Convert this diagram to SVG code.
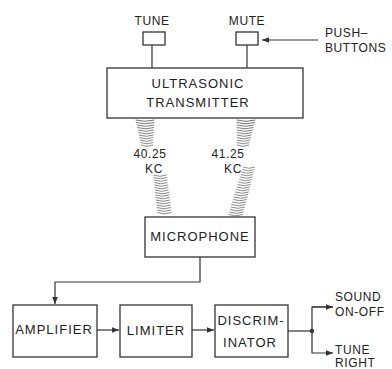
<svg xmlns="http://www.w3.org/2000/svg" xmlns:xlink="http://www.w3.org/1999/xlink" width="392" height="369" viewBox="0 0 392 369">
<style>
.box{fill:#fff;stroke:#333;stroke-width:1.3}
.ln{fill:none;stroke:#333;stroke-width:1.2}
.t{font-family:"Liberation Sans",Arial,sans-serif;fill:#222;text-anchor:middle;font-size:13px;letter-spacing:1px}
.s{font-size:12px;letter-spacing:0.6px}
.l{text-anchor:start}
.w{fill:none;stroke:#555;stroke-width:0.7}
</style>
<defs>
<marker id="ah" viewBox="0 0 10 10" refX="10" refY="5" markerWidth="7" markerHeight="7" orient="auto" markerUnits="userSpaceOnUse">
<path d="M0,1 L10,5 L0,9 Z" fill="#333"/>
</marker>
<path id="arc" d="M-7,0 Q0,2.6 7,0"/>
</defs>
<rect width="392" height="369" fill="#fff"/>

<g id="connectors">
<line class="ln" x1="152" y1="45" x2="152" y2="68"/>
<line class="ln" x1="247" y1="45" x2="247" y2="68"/>
<line class="ln" x1="318" y1="40" x2="262" y2="40" marker-end="url(#ah)"/>
<polyline class="ln" points="200,257 200,282 55,282 55,304" marker-end="url(#ah)"/>
<line class="ln" x1="97" y1="330" x2="119" y2="330" marker-end="url(#ah)"/>
<line class="ln" x1="192" y1="330" x2="214" y2="330" marker-end="url(#ah)"/>
<line class="ln" x1="288" y1="331" x2="312" y2="331"/>
<polyline class="ln" points="333,307 312,307 312,353 333,353" marker-end="url(#ah)"/>
<line class="ln" x1="312" y1="307" x2="333" y2="307" marker-end="url(#ah)"/>
<circle cx="312" cy="331" r="2.2" fill="#333"/>
</g>

<g id="waves" class="w">
<use xlink:href="#arc" transform="translate(145,120) scale(1.35,1)"/>
<use xlink:href="#arc" transform="translate(145.2,122.5) scale(1.3,1)"/>
<use xlink:href="#arc" transform="translate(145.4,125) scale(1.25,1)"/>
<use xlink:href="#arc" transform="translate(145.6,127.5) scale(1.2,1)"/>
<use xlink:href="#arc" transform="translate(145.8,130) scale(1.15,1)"/>
<use xlink:href="#arc" transform="translate(146,132.5) scale(1.1,1)"/>
<use xlink:href="#arc" transform="translate(146.2,135) scale(1.05,1)"/>
<use xlink:href="#arc" transform="translate(146.4,137.5) scale(1,1)"/>
<use xlink:href="#arc" transform="translate(146.6,140) scale(0.95,1)"/>
<use xlink:href="#arc" transform="translate(146.8,142.5) scale(0.9,1)"/>
<use xlink:href="#arc" transform="translate(147,145) scale(0.9,1)"/>

<use xlink:href="#arc" transform="translate(160,175) scale(0.95,1)"/>
<use xlink:href="#arc" transform="translate(160.3,177.5) scale(0.95,1)"/>
<use xlink:href="#arc" transform="translate(160.6,180) scale(0.95,1)"/>
<use xlink:href="#arc" transform="translate(160.9,182.5) scale(0.95,1)"/>
<use xlink:href="#arc" transform="translate(161.2,185) scale(0.97,1)"/>
<use xlink:href="#arc" transform="translate(161.5,187.5) scale(0.97,1)"/>
<use xlink:href="#arc" transform="translate(161.8,190) scale(0.97,1)"/>
<use xlink:href="#arc" transform="translate(162.1,192.5) scale(1,1)"/>
<use xlink:href="#arc" transform="translate(162.4,195) scale(1,1)"/>
<use xlink:href="#arc" transform="translate(162.7,197.5) scale(1,1)"/>
<use xlink:href="#arc" transform="translate(163,200) scale(1,1)"/>
<use xlink:href="#arc" transform="translate(163.3,202.5) scale(1,1)"/>
<use xlink:href="#arc" transform="translate(163.6,205) scale(1,1)"/>
<use xlink:href="#arc" transform="translate(163.9,207.5) scale(1,1)"/>
<use xlink:href="#arc" transform="translate(164.2,210) scale(1,1)"/>
<use xlink:href="#arc" transform="translate(164.5,212.5) scale(1,1)"/>

<use xlink:href="#arc" transform="translate(246,120) scale(1.35,1)"/>
<use xlink:href="#arc" transform="translate(245.7,122.5) scale(1.3,1)"/>
<use xlink:href="#arc" transform="translate(245.4,125) scale(1.25,1)"/>
<use xlink:href="#arc" transform="translate(245.1,127.5) scale(1.2,1)"/>
<use xlink:href="#arc" transform="translate(244.8,130) scale(1.15,1)"/>
<use xlink:href="#arc" transform="translate(244.5,132.5) scale(1.1,1)"/>
<use xlink:href="#arc" transform="translate(244.2,135) scale(1.05,1)"/>
<use xlink:href="#arc" transform="translate(243.9,137.5) scale(1,1)"/>
<use xlink:href="#arc" transform="translate(243.6,140) scale(0.95,1)"/>
<use xlink:href="#arc" transform="translate(243.3,142.5) scale(0.9,1)"/>
<use xlink:href="#arc" transform="translate(243,145) scale(0.9,1)"/>

<use xlink:href="#arc" transform="translate(249,167) scale(0.85,1)"/>
<use xlink:href="#arc" transform="translate(248.3,169.5) scale(0.85,1)"/>
<use xlink:href="#arc" transform="translate(247.6,172) scale(0.87,1)"/>
<use xlink:href="#arc" transform="translate(246.9,174.5) scale(0.87,1)"/>
<use xlink:href="#arc" transform="translate(246.2,177) scale(0.9,1)"/>
<use xlink:href="#arc" transform="translate(245.5,179.5) scale(0.9,1)"/>
<use xlink:href="#arc" transform="translate(244.8,182) scale(0.92,1)"/>
<use xlink:href="#arc" transform="translate(244.1,184.5) scale(0.92,1)"/>
<use xlink:href="#arc" transform="translate(243.4,187) scale(0.94,1)"/>
<use xlink:href="#arc" transform="translate(242.7,189.5) scale(0.94,1)"/>
<use xlink:href="#arc" transform="translate(242,192) scale(0.96,1)"/>
<use xlink:href="#arc" transform="translate(241.3,194.5) scale(0.96,1)"/>
<use xlink:href="#arc" transform="translate(240.6,197) scale(0.98,1)"/>
<use xlink:href="#arc" transform="translate(239.9,199.5) scale(0.98,1)"/>
<use xlink:href="#arc" transform="translate(239.2,202) scale(1,1)"/>
<use xlink:href="#arc" transform="translate(238.5,204.5) scale(1,1)"/>
<use xlink:href="#arc" transform="translate(237.8,207) scale(1,1)"/>
<use xlink:href="#arc" transform="translate(237.1,209.5) scale(1,1)"/>
<use xlink:href="#arc" transform="translate(236.4,212) scale(1,1)"/>
<use xlink:href="#arc" transform="translate(235.7,214.5) scale(1,1)"/>
</g>

<g id="tune">
<text class="t s" x="152" y="25">TUNE</text>
<rect class="box" x="143" y="32" width="22" height="13"/>
</g>
<g id="mute">
<text class="t s" x="247" y="25">MUTE</text>
<rect class="box" x="236" y="32" width="22" height="13"/>
</g>
<g id="pushbuttons">
<text class="t s l" x="325" y="37">PUSH–</text>
<text class="t s l" x="325" y="52">BUTTONS</text>
</g>
<g id="transmitter">
<rect class="box" x="107" y="68" width="196" height="50"/>
<text class="t" x="198" y="88">ULTRASONIC</text>
<text class="t" x="198" y="107">TRANSMITTER</text>
</g>
<g id="labels">
<text class="t s" x="150" y="158" letter-spacing="0.3">40.25</text>
<text class="t s" x="154" y="173">KC</text>
<text class="t s" x="228" y="158" letter-spacing="0.3">41.25</text>
<text class="t s" x="233" y="173">KC</text>
</g>
<g id="microphone">
<rect class="box" x="145" y="217" width="110" height="40"/>
<text class="t" x="200" y="241" letter-spacing="0.6">MICROPHONE</text>
</g>
<g id="amplifier">
<rect class="box" x="13" y="305" width="84" height="52"/>
<text class="t" x="54" y="334" letter-spacing="0.8">AMPLIFIER</text>
</g>
<g id="limiter">
<rect class="box" x="120" y="305" width="72" height="52"/>
<text class="t" x="156" y="335">LIMITER</text>
</g>
<g id="discriminator">
<rect class="box" x="215" y="305" width="73" height="52"/>
<text class="t" x="251" y="325">DISCRIM-</text>
<text class="t" x="250" y="347">INATOR</text>
</g>
<g id="outputs">
<text class="t s l" x="335" y="301">SOUND</text>
<text class="t s l" x="335" y="316">ON-OFF</text>
<text class="t s l" x="335" y="354">TUNE</text>
<text class="t s l" x="335" y="367">RIGHT</text>
</g>
</svg>
